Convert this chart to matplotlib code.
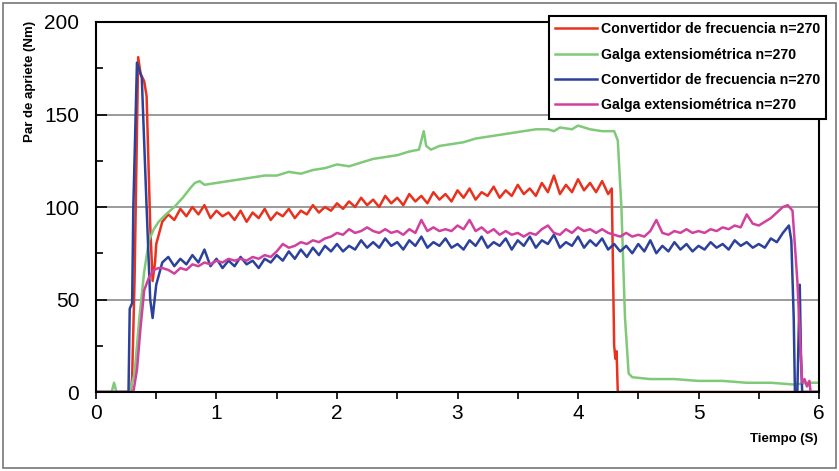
import matplotlib
matplotlib.use('Agg')
import matplotlib.pyplot as plt
from matplotlib.patches import Rectangle
from matplotlib.ticker import MultipleLocator

plt.rcParams['font.family'] = ['Liberation Sans', 'DejaVu Sans']

labels = ['Convertidor de frecuencia n=270', 'Galga extensiométrica n=270',
          'Convertidor de frecuencia n=270', 'Galga extensiométrica n=270']
colors = ['#e8321e', '#7fc979', '#2b419c', '#d2409e']

# red - convertidor 1
red_x = [0, 0.29, 0.30, 0.32, 0.35, 0.37, 0.40, 0.42, 0.45, 0.47, 0.49,
         0.50, 0.55, 0.60, 0.65, 0.70, 0.75, 0.80, 0.85, 0.90, 0.95,
         1.00, 1.05, 1.10, 1.15, 1.20, 1.25, 1.30, 1.35, 1.40, 1.45,
         1.50, 1.55, 1.60, 1.65, 1.70, 1.75, 1.80, 1.85, 1.90, 1.95,
         2.00, 2.05, 2.10, 2.15, 2.20, 2.25, 2.30, 2.35, 2.40, 2.45,
         2.50, 2.55, 2.60, 2.65, 2.70, 2.75, 2.80, 2.85, 2.90, 2.95,
         3.00, 3.05, 3.10, 3.15, 3.20, 3.25, 3.30, 3.35, 3.40, 3.45,
         3.50, 3.55, 3.60, 3.65, 3.70, 3.75, 3.80, 3.85, 3.90, 3.95,
         4.00, 4.05, 4.10, 4.15, 4.20, 4.25, 4.28, 4.30, 4.31, 4.32, 4.33, 6.0]
red_y = [0, 0, 8, 60, 181, 172, 168, 160, 90, 60, 70,
         80, 92, 96, 93, 99, 95, 100, 96, 101, 94,
         98, 95, 97, 93, 98, 92, 97, 94, 99, 93,
         97, 95, 99, 94, 98, 96, 101, 97, 100, 98,
         102, 99, 103, 100, 105, 101, 104, 100, 106, 102,
         105, 101, 107, 103, 106, 102, 108, 104, 107, 103,
         109, 105, 110, 104, 108, 106, 111, 105, 109, 106,
         112, 107, 110, 106, 113, 108, 117, 107, 112, 108,
         115, 109, 113, 108, 114, 107, 110, 25, 18, 22, 0, 0]

# green - galga 1
green_x = [0, 0.13, 0.15, 0.17, 0.28, 0.32, 0.36, 0.40, 0.44, 0.48, 0.52, 0.58,
           0.65, 0.72, 0.78, 0.82, 0.86, 0.90, 1.00, 1.10, 1.20, 1.30, 1.40,
           1.50, 1.60, 1.70, 1.80, 1.90, 2.00, 2.10, 2.20, 2.30, 2.40, 2.50,
           2.60, 2.68, 2.72, 2.74, 2.78, 2.85, 2.95, 3.05, 3.15, 3.25, 3.35,
           3.45, 3.55, 3.65, 3.75, 3.80, 3.85, 3.95, 4.00, 4.10, 4.20, 4.30,
           4.33, 4.36, 4.39, 4.42, 4.45, 4.60, 4.80, 5.00, 5.20, 5.40, 5.60,
           5.80, 5.90, 6.00]
green_y = [0, 0, 5, 0, 0, 10, 40, 65, 82, 88, 92, 96,
           100, 105, 110, 113, 114, 112, 113, 114, 115, 116, 117,
           117, 119, 118, 120, 121, 123, 122, 124, 126, 127, 128,
           130, 131, 141, 133, 131, 133, 134, 135, 137, 138, 139,
           140, 141, 142, 142, 141, 143, 142, 144, 142, 141, 141,
           136, 100, 40, 10, 8, 7, 7, 6, 6, 5, 5,
           4, 5, 5]

# blue - convertidor 2
blue_x = [0, 0.27, 0.28, 0.30, 0.31, 0.34, 0.38, 0.42, 0.45, 0.47, 0.50,
          0.55, 0.60, 0.65, 0.70, 0.75, 0.80, 0.85, 0.90, 0.95,
          1.00, 1.05, 1.10, 1.15, 1.20, 1.25, 1.30, 1.35, 1.40, 1.45,
          1.50, 1.55, 1.60, 1.65, 1.70, 1.75, 1.80, 1.85, 1.90, 1.95,
          2.00, 2.05, 2.10, 2.15, 2.20, 2.25, 2.30, 2.35, 2.40, 2.45,
          2.50, 2.55, 2.60, 2.65, 2.70, 2.75, 2.80, 2.85, 2.90, 2.95,
          3.00, 3.05, 3.10, 3.15, 3.20, 3.25, 3.30, 3.35, 3.40, 3.45,
          3.50, 3.55, 3.60, 3.65, 3.70, 3.75, 3.80, 3.85, 3.90, 3.95,
          4.00, 4.05, 4.10, 4.15, 4.20, 4.25, 4.30, 4.35, 4.40, 4.45,
          4.50, 4.55, 4.60, 4.65, 4.70, 4.75, 4.80, 4.85, 4.90, 4.95,
          5.00, 5.05, 5.10, 5.15, 5.20, 5.25, 5.30, 5.35, 5.40, 5.45,
          5.50, 5.55, 5.60, 5.65, 5.70, 5.75, 5.77, 5.79, 5.80,
          5.82, 5.84, 5.85, 5.86, 6.0]
blue_y = [0, 0, 45, 48, 100, 178, 170, 100, 50, 40, 58,
          70, 73, 68, 72, 69, 74, 70, 77, 68,
          72, 67, 71, 68, 73, 69, 71, 67, 72, 70,
          74, 71, 76, 72, 77, 73, 78, 74, 79, 76,
          80, 76, 79, 77, 82, 78, 81, 78, 83, 79,
          81, 77, 82, 79, 84, 78, 81, 79, 83, 78,
          80, 77, 82, 79, 84, 78, 81, 79, 83, 77,
          82, 79, 84, 78, 82, 80, 85, 78, 81, 79,
          84, 78, 82, 79, 83, 77, 80, 76, 79, 75,
          80, 76, 82, 75, 79, 76, 81, 77, 80, 76,
          79, 77, 81, 78, 80, 77, 82, 79, 81, 78,
          80, 78, 83, 81, 86, 90, 82, 40, 0,
          0, 58, 20, 0, 0]

# magenta - galga 2
mag_x = [0, 0.31, 0.34, 0.37, 0.40, 0.44, 0.48, 0.52,
         0.55, 0.60, 0.65, 0.70, 0.75, 0.80, 0.85, 0.90, 0.95,
         1.00, 1.05, 1.10, 1.15, 1.20, 1.25, 1.30, 1.35, 1.40, 1.45,
         1.50, 1.55, 1.60, 1.65, 1.70, 1.75, 1.80, 1.85, 1.90, 1.95,
         2.00, 2.05, 2.10, 2.15, 2.20, 2.25, 2.30, 2.35, 2.40, 2.45,
         2.50, 2.55, 2.60, 2.65, 2.70, 2.75, 2.80, 2.85, 2.90, 2.95,
         3.00, 3.05, 3.10, 3.15, 3.20, 3.25, 3.30, 3.35, 3.40, 3.45,
         3.50, 3.55, 3.60, 3.65, 3.70, 3.75, 3.80, 3.85, 3.90, 3.95,
         4.00, 4.05, 4.10, 4.15, 4.20, 4.25, 4.30, 4.35, 4.40, 4.45,
         4.50, 4.55, 4.60, 4.65, 4.70, 4.75, 4.80, 4.85, 4.90, 4.95,
         5.00, 5.05, 5.10, 5.15, 5.20, 5.25, 5.30, 5.35, 5.40, 5.45,
         5.50, 5.55, 5.60, 5.65, 5.70, 5.74, 5.78, 5.82, 5.86, 5.88,
         5.90, 5.92, 5.93, 6.0]
mag_y = [0, 0, 12, 35, 55, 62, 66, 67,
         67, 66, 64, 67, 66, 69, 68, 70, 69,
         71, 70, 72, 71, 72, 71, 73, 72, 74, 73,
         76, 80, 78, 79, 81, 80, 82, 81, 83, 84,
         86, 85, 88, 86, 87, 89, 87, 86, 88, 86,
         87, 85, 88, 86, 93, 87, 89, 87, 88, 87,
         90, 88, 93, 87, 89, 86, 88, 85, 87, 85,
         86, 84, 86, 85, 88, 90, 86, 85, 88, 86,
         89, 87, 88, 86, 88, 86, 85, 84, 86, 84,
         85, 84, 87, 93, 86, 85, 87, 86, 88, 86,
         87, 86, 88, 87, 89, 88, 90, 89, 96, 91,
         90, 92, 94, 97, 100, 101, 98, 60, 5, 7,
         3, 6, 0, 0]

series = [(red_x, red_y), (green_x, green_y), (blue_x, blue_y), (mag_x, mag_y)]

fig = plt.figure(figsize=(8.39, 4.71), dpi=100)
ax = fig.add_axes([0.1144, 0.1677, 0.8618, 0.7856])

for (xs, ys), c, lab in zip(series, colors, labels):
    ax.plot(xs, ys, color=c, lw=1.8, label=lab)

ax.set_xlim(0, 6)
ax.set_ylim(0, 200)
ax.xaxis.set_major_locator(MultipleLocator(1))
ax.xaxis.set_minor_locator(MultipleLocator(0.5))
ax.yaxis.set_major_locator(MultipleLocator(50))
ax.yaxis.set_minor_locator(MultipleLocator(25))
ax.tick_params(axis='x', which='both', direction='out', length=5, width=1.2, labelsize=15)
ax.tick_params(axis='y', which='both', direction='in', length=5, width=1.2, labelsize=15, pad=12)
ax.tick_params(axis='y', which='major', length=8)
ax.grid(axis='y', which='major', color='#8a8a8a', lw=1.2)
for s in ax.spines.values():
    s.set_linewidth(1.5)

ax.set_ylabel('Par de apriete (Nm)', fontsize=9.5, fontweight='bold')
ax.yaxis.set_label_coords(-0.083, 0.84)
fig.text(0.975, 0.055, 'Tiempo (S)', ha='right', va='bottom', fontsize=9.5, fontweight='bold')

leg = fig.legend(loc='upper right', bbox_to_anchor=(0.985, 0.966),
                 prop={'weight': 'bold', 'size': 10.2}, frameon=True, fancybox=False,
                 edgecolor='black', handlelength=2.9, borderpad=0.45, labelspacing=0.8,
                 handletextpad=0.3, borderaxespad=0)
leg.get_frame().set_linewidth(1.5)
leg.get_frame().set_alpha(1)

fig.patches.append(Rectangle((0.004, 0.006), 0.992, 0.988, transform=fig.transFigure,
                             fill=False, edgecolor='#777777', lw=1.2))

fig.savefig('out.png', dpi=100)
